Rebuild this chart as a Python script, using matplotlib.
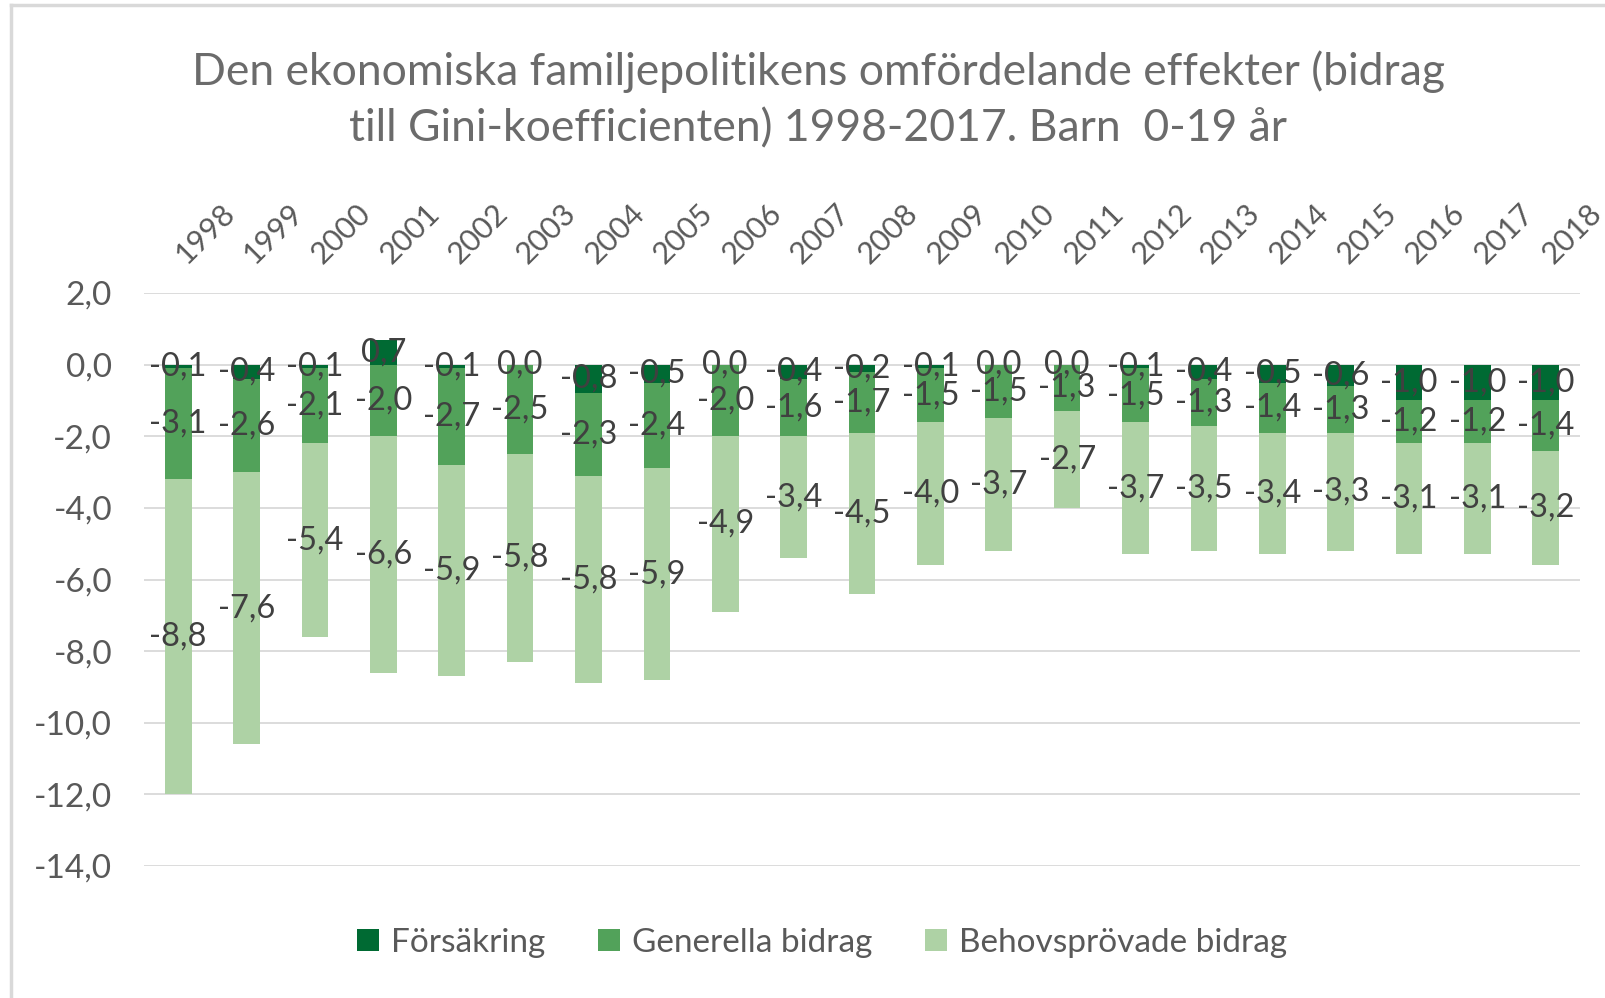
import matplotlib
matplotlib.use("Agg")
import matplotlib.pyplot as plt
from matplotlib.patches import Patch
from matplotlib.ticker import FuncFormatter, MultipleLocator
from matplotlib.lines import Line2D
from matplotlib.transforms import blended_transform_factory, ScaledTranslation
import numpy as np

plt.rcParams['font.family'] = ['Lato', 'DejaVu Sans']

years = [str(y) for y in range(1998, 2019)]
forsakring = [-0.1, -0.4, -0.1, 0.7, -0.1, 0.0, -0.8, -0.5, 0.0, -0.4, -0.2,
              -0.1, 0.0, 0.0, -0.1, -0.4, -0.5, -0.6, -1.0, -1.0, -1.0]
generella = [-3.1, -2.6, -2.1, -2.0, -2.7, -2.5, -2.3, -2.4, -2.0, -1.6, -1.7,
             -1.5, -1.5, -1.3, -1.5, -1.3, -1.4, -1.3, -1.2, -1.2, -1.4]
behovsprovade = [-8.8, -7.6, -5.4, -6.6, -5.9, -5.8, -5.8, -5.9, -4.9, -3.4, -4.5,
                 -4.0, -3.7, -2.7, -3.7, -3.5, -3.4, -3.3, -3.1, -3.1, -3.2]
series_names = ["Försäkring", "Generella bidrag", "Behovsprövade bidrag"]
colors = ["#006a33", "#52a25a", "#aed2a5"]
title = ("Den ekonomiska familjepolitikens omfördelande effekter (bidrag\n"
         "till Gini-koefficienten) 1998-2017. Barn  0-19 år")

W, H = 1606, 998
fig = plt.figure(figsize=(W / 100, H / 100), dpi=100)
ax = fig.add_axes([144 / W, 1 - 866 / H, (1580 - 144) / W, (866 - 293) / H])

x = np.arange(len(years))
f = np.array(forsakring)
g = np.array(generella)
b = np.array(behovsprovade)
neg_base = np.minimum(f, 0)
bottoms = [np.zeros_like(f), neg_base, neg_base + g]
vals = [f, g, b]
bw = 0.39
fmt = lambda v: f"{v:.1f}".replace('.', ',')
label_color = "#404040"
for vals_i, bot, c in zip(vals, bottoms, colors):
    bars = ax.bar(x, vals_i, bw, bottom=bot, color=c, zorder=2)
    ax.bar_label(bars, labels=[fmt(v) for v in vals_i], label_type='center',
                 fontsize=23.5, color=label_color, zorder=3)

ax.set_xlim(-0.5, len(years) - 0.5)
ax.set_ylim(-14, 2)
ax.yaxis.set_major_locator(MultipleLocator(2))
ax.yaxis.set_major_formatter(FuncFormatter(lambda v, p: fmt(v)))
ax.grid(axis='y', color='#d9d9d9', linewidth=1.3, zorder=0)
ax.set_axisbelow(True)
for s in ax.spines.values():
    s.set_visible(False)
ax.tick_params(axis='y', length=0, pad=23, labelsize=24, labelcolor='#595959')
ax.set_xticks(x)
ax.set_xticklabels([])
ax.tick_params(axis='x', length=0, bottom=False, top=False)

# category labels above the plot, rotated 45 degrees
trans = blended_transform_factory(ax.transData, ax.transAxes) + \
    ScaledTranslation(8 / 100, 28 / 100, fig.dpi_scale_trans)
for xi, yr in zip(x, years):
    ax.text(xi, 1.0, yr, transform=trans, rotation=45, ha='left', va='baseline',
            rotation_mode='anchor', fontsize=22, color='#595959', clip_on=False)

fig.text(818 / W, 1 - 100 / H, title, ha='center', va='center', fontsize=32,
         color='#6b6b6b', linespacing=1.48)

handles = [Patch(facecolor=c, edgecolor='none') for c in colors]
fig.legend(handles, series_names, loc='center', bbox_to_anchor=(822 / W, 1 - 943 / H),
           ncol=3, frameon=False, fontsize=24, handlelength=0.65, handleheight=0.65,
           handletextpad=0.35, columnspacing=1.6, labelcolor='#595959')

fig.add_artist(Line2D([11 / W, 11 / W], [0, 1 - 5 / H], transform=fig.transFigure,
                      color='#d9d9d9', linewidth=2.5))
fig.add_artist(Line2D([11 / W, 1], [1 - 5 / H, 1 - 5 / H], transform=fig.transFigure,
                      color='#d9d9d9', linewidth=2.5))

fig.savefig("out.png", dpi=100, facecolor='white')
